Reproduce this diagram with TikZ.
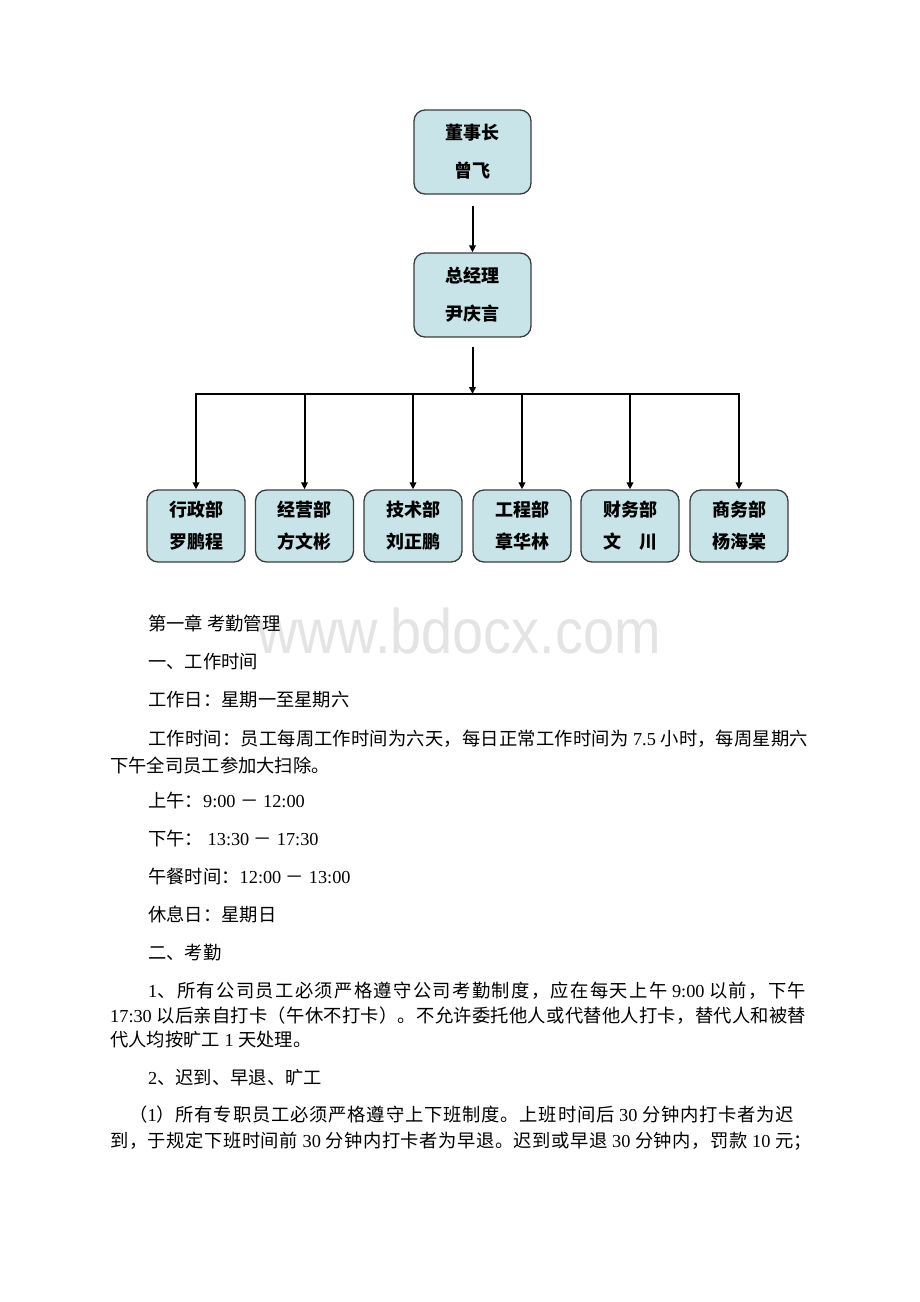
\documentclass[tikz,border=0pt]{standalone}
\usepackage{fontspec}
\setmainfont{Noto Sans CJK SC}
\newfontfamily\lat{Liberation Serif}
\newfontfamily\wmfont{Liberation Sans}
\usetikzlibrary{arrows.meta}
% inter-character glue between Chinese characters (for justified lines)
\newXeTeXintercharclass\myhan
\newcount\mycnt
\mycnt="4E00
\loop
  \XeTeXcharclass\mycnt=\myhan
  \advance\mycnt by 1
\ifnum\mycnt<"A000 \repeat
\XeTeXcharclass"FF0C=\myhan
\XeTeXcharclass"3001=\myhan
\XeTeXcharclass"3002=\myhan
\XeTeXcharclass"FF1A=\myhan
\XeTeXcharclass"FF08=\myhan
\XeTeXcharclass"FF09=\myhan
\XeTeXcharclass"FF1B=\myhan
\XeTeXinterchartoks\myhan\myhan={\hskip 0pt plus 1pt\relax}
\XeTeXinterchartokenstate=1
\definecolor{boxfill}{RGB}{200,228,232}
\definecolor{boxline}{RGB}{60,60,60}
\definecolor{wmgray}{RGB}{228,228,228}
\newcommand\en[1]{{\lat #1}}
\newcommand\sk{\hskip 4.6pt\relax}
\newcommand\jl[2]{\hbox to #1pt{#2}}
\begin{document}
\begin{tikzpicture}[x=1pt,y=-1pt,
  org/.style={draw=boxline, line width=1.3pt, fill=boxfill, rounded corners=11pt,
    inner sep=0pt, align=center, font=\bfseries\fontsize{18}{38}\selectfont},
  topbox/.style={org, minimum width=117pt, minimum height=84pt},
  deptbox/.style={org, minimum width=98pt, minimum height=72pt,
    font=\bfseries\fontsize{18}{32}\selectfont},
  conn/.style={line width=2pt, -{Triangle[length=7pt,width=6.5pt]}},
  bus/.style={line width=2pt, line cap=rect},
  body/.style={anchor=base west, inner sep=0pt, font=\fontsize{18.3}{22}\selectfont}]
\useasboundingbox (0,0) rectangle (920,1302);
\fill[white] (0,0) rectangle (920,1302);

% watermark
\node[anchor=base west, inner sep=0pt, text=wmgray,
  font=\wmfont\fontsize{63}{63}\selectfont] (wm) at (257,653)
  {\scalebox{0.887}[1]{www.bdocx.com}};

% org chart
\node[topbox] (chair) at (472.5,152) {董事长\\曾飞};
\node[topbox] (gm) at (472.5,295) {总经理\\尹庆言};
\coordinate (bus) at (472.5,394);
\node[deptbox] (d1) at (196,526) {行政部\\罗鹏程};
\node[deptbox] (d2) at (304.5,526) {经营部\\方文彬};
\node[deptbox] (d3) at (413,526) {技术部\\刘正鹏};
\node[deptbox] (d4) at (522,526) {工程部\\章华林};
\node[deptbox] (d5) at (630,526) {财务部\\文　川};
\node[deptbox] (d6) at (739,526) {商务部\\杨海棠};

\draw[conn, shorten <=11pt] (chair) -- (gm);
\draw[conn, shorten <=9pt] (gm) -- (bus);
\draw[bus] (d1.north |- bus) -- (d6.north |- bus);
\foreach \d in {d1,d2,d3,d4,d5,d6}
  \draw[conn] (\d.north |- bus) -- (\d.north);

% body text
\node[body] (l1) at (148,630) {第一章 考勤管理};
\node[body] (l2) at (148,668) {一、工作时间};
\node[body] (l3) at (148,706) {工作日：星期一至星期六};
\node[body] (l4) at (148,745) {\jl{660}{工作时间：员工每周工作时间为六天，每日正常工作时间为\sk{}\en{7.5}\sk{}小时，每周星期六}};
\node[body] (l5) at (110,772) {下午全司员工参加大扫除。};
\node[body] (l6) at (148,807) {上午：\en{9:00}\sk{}－\sk{}\en{12:00}};
\node[body] (l7) at (148,845) {下午：\sk{}\en{13:30}\sk{}－\sk{}\en{17:30}};
\node[body] (l8) at (148,883) {午餐时间：\en{12:00}\sk{}－\sk{}\en{13:00}};
\node[body] (l9) at (148,921) {休息日：星期日};
\node[body] (l10) at (148,959) {二、考勤};
\node[body] (l11) at (148,997) {\jl{658}{\en{1}、所有公司员工必须严格遵守公司考勤制度，应在每天上午\sk{}\en{9:00}\sk{}以前，下午}};
\node[body] (l12) at (110,1022) {\jl{696}{\en{17:30}\sk{}以后亲自打卡（午休不打卡）。不允许委托他人或代替他人打卡，替代人和被替}};
\node[body] (l13) at (110,1046) {代人均按旷工\sk{}\en{1}\sk{}天处理。};
\node[body] (l14) at (148,1084) {\en{2}、迟到、早退、旷工};
\node[body] (l15) at (129,1121) {\jl{665}{（\en{1}）所有专职员工必须严格遵守上下班制度。上班时间后\sk{}\en{30}\sk{}分钟内打卡者为迟}};
\node[body] (l16) at (110,1147) {\jl{702}{到，于规定下班时间前\sk{}\en{30}\sk{}分钟内打卡者为早退。迟到或早退\sk{}\en{30}\sk{}分钟内，罚款\sk{}\en{10}\sk{}元；}};
\end{tikzpicture}
\end{document}
